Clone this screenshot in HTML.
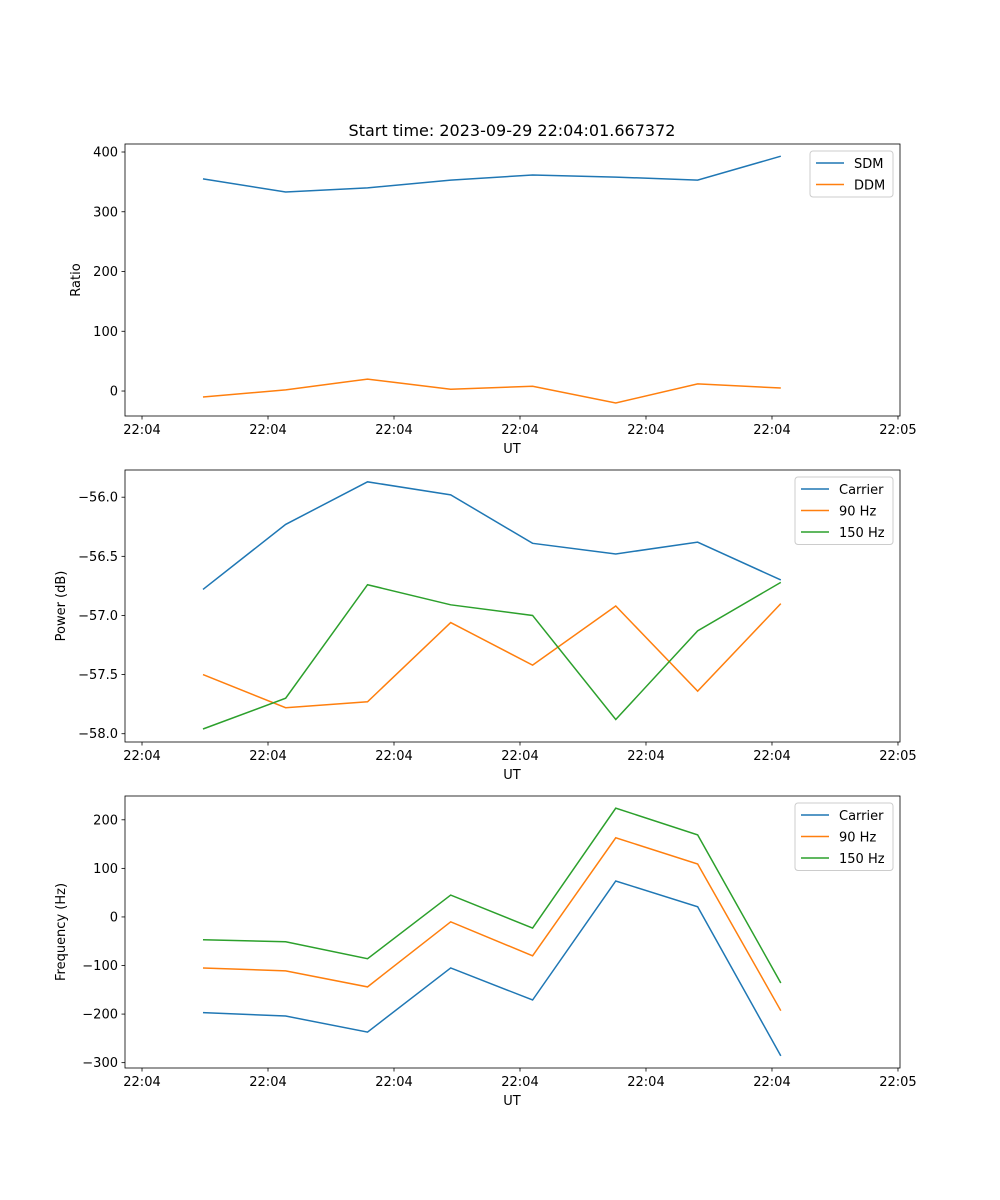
<!DOCTYPE html>
<html><head><meta charset="utf-8"><style>
body{margin:0;background:#fff}
svg{display:block;font-family:"DejaVu Sans","Liberation Sans",sans-serif}
</style></head><body>
<svg id="fig" width="1000" height="1200" viewBox="0 0 1000 1200">
<rect width="1000" height="1200" fill="#fff"/>
<text x="512" y="136" font-size="16" text-anchor="middle">Start time: 2023-09-29 22:04:01.667372</text>
</svg>
<script>
const times=[4.84,11.4,17.9,24.5,31.0,37.6,44.1,50.7];
const xTicks=[0,10,20,30,40,50,60];
const xTickLabels=["22:04","22:04","22:04","22:04","22:04","22:04","22:05"];
const sdm=[355,333,340,353,361.5,358,353,393];
const ddm=[-10,2,20,3,8,-20,12,5];
const pCarrier=[-56.78,-56.23,-55.87,-55.98,-56.39,-56.48,-56.38,-56.70];
const p90=[-57.50,-57.78,-57.73,-57.06,-57.42,-56.92,-57.64,-56.90];
const p150=[-57.96,-57.70,-56.74,-56.91,-57.00,-57.88,-57.13,-56.72];
const fCarrier=[-197,-204,-237,-105,-171,74,21,-286];
const f90=[-105,-111,-144,-10,-80,163,109,-193];
const f150=[-47,-51,-86,45,-23,224,169,-136];
const ticks1=[0,100,200,300,400];
const ticks2=[-58.0,-57.5,-57.0,-56.5,-56.0];
const ticks3=[-300,-200,-100,0,100,200];
const NS="http://www.w3.org/2000/svg";
const svg=document.getElementById('fig');
const C=["#1f77b4","#ff7f0e","#2ca02c"];
function mk(t,a,p){const e=document.createElementNS(NS,t);for(const k in a)e.setAttribute(k,a[k]);(p||svg).appendChild(e);return e;}
const L=125,R=900,xmin=-1.35,xmax=60.16;
const X=t=>L+(t-xmin)/(xmax-xmin)*(R-L);
function panel(top,bot,ymin,ymax,yt,fmt,ylabel,series,names,legW,id){
  const g=mk('g',{});
  
  
  const Y=v=>bot-(v-ymin)/(ymax-ymin)*(bot-top);
  series.forEach((s,i)=>{
    const pl=mk('polyline',{points:s.map((v,j)=>X(times[j])+','+Y(v)).join(' '),fill:'none',stroke:C[i],'stroke-width':1.5},g);
    
    
  });
  mk('rect',{x:L,y:top,width:R-L,height:bot-top,fill:'none',stroke:'#000','stroke-width':0.8},g);
  xTicks.forEach((t,i)=>{
    mk('line',{x1:X(t),x2:X(t),y1:bot,y2:bot+3.5,stroke:'#000','stroke-width':0.8},g);
    const tx=mk('text',{x:X(t),y:bot+18,'font-size':13,'text-anchor':'middle'},g);tx.textContent=xTickLabels[i];
    
    
  });
  const xl=mk('text',{x:512,y:bot+37,'font-size':13,'text-anchor':'middle'},g);xl.textContent='UT';
  
  
  yt.forEach(v=>{
    mk('line',{x1:L-3.5,x2:L,y1:Y(v),y2:Y(v),stroke:'#000','stroke-width':0.8},g);
    const tx=mk('text',{x:L-7,y:Y(v)+4.5,'font-size':13,'text-anchor':'end'},g);tx.textContent=fmt(v);
    
    
  });
  const yl=mk('text',{transform:`translate(${id==='ratio'?80:65},${(top+bot)/2}) rotate(-90)`,'font-size':13,'text-anchor':'middle'},g);yl.textContent=ylabel;
  
  
  const lx=R-7-legW, ly=top+7, lh=3+21.5*names.length;
  const lg=mk('g',{},g);
  
  
  mk('rect',{x:lx,y:ly,width:legW,height:lh,rx:3,fill:'#fff','fill-opacity':0.8,stroke:'#ccc'},lg);
  names.forEach((n,i)=>{
    const yy=ly+12+i*21.5;
    mk('line',{x1:lx+6,x2:lx+34,y1:yy,y2:yy,stroke:C[i],'stroke-width':1.5},lg);
    const tx=mk('text',{x:lx+44,y:yy+5,'font-size':13},lg);tx.textContent=n;
    
    
  });
}
const minus=s=>s.replace('-','\u2212');
panel(144,416,-41.8,413.4,ticks1,v=>minus(String(v)),'Ratio',[sdm,ddm],['SDM','DDM'],83,'ratio');
panel(470,742,-58.07,-55.77,ticks2,v=>minus(v.toFixed(1)),'Power (dB)',[pCarrier,p90,p150],['Carrier','90 Hz','150 Hz'],98,'power');
panel(796,1068,-311,249,ticks3,v=>minus(String(v)),'Frequency (Hz)',[fCarrier,f90,f150],['Carrier','90 Hz','150 Hz'],98,'frequency');
</script>
</body></html>
